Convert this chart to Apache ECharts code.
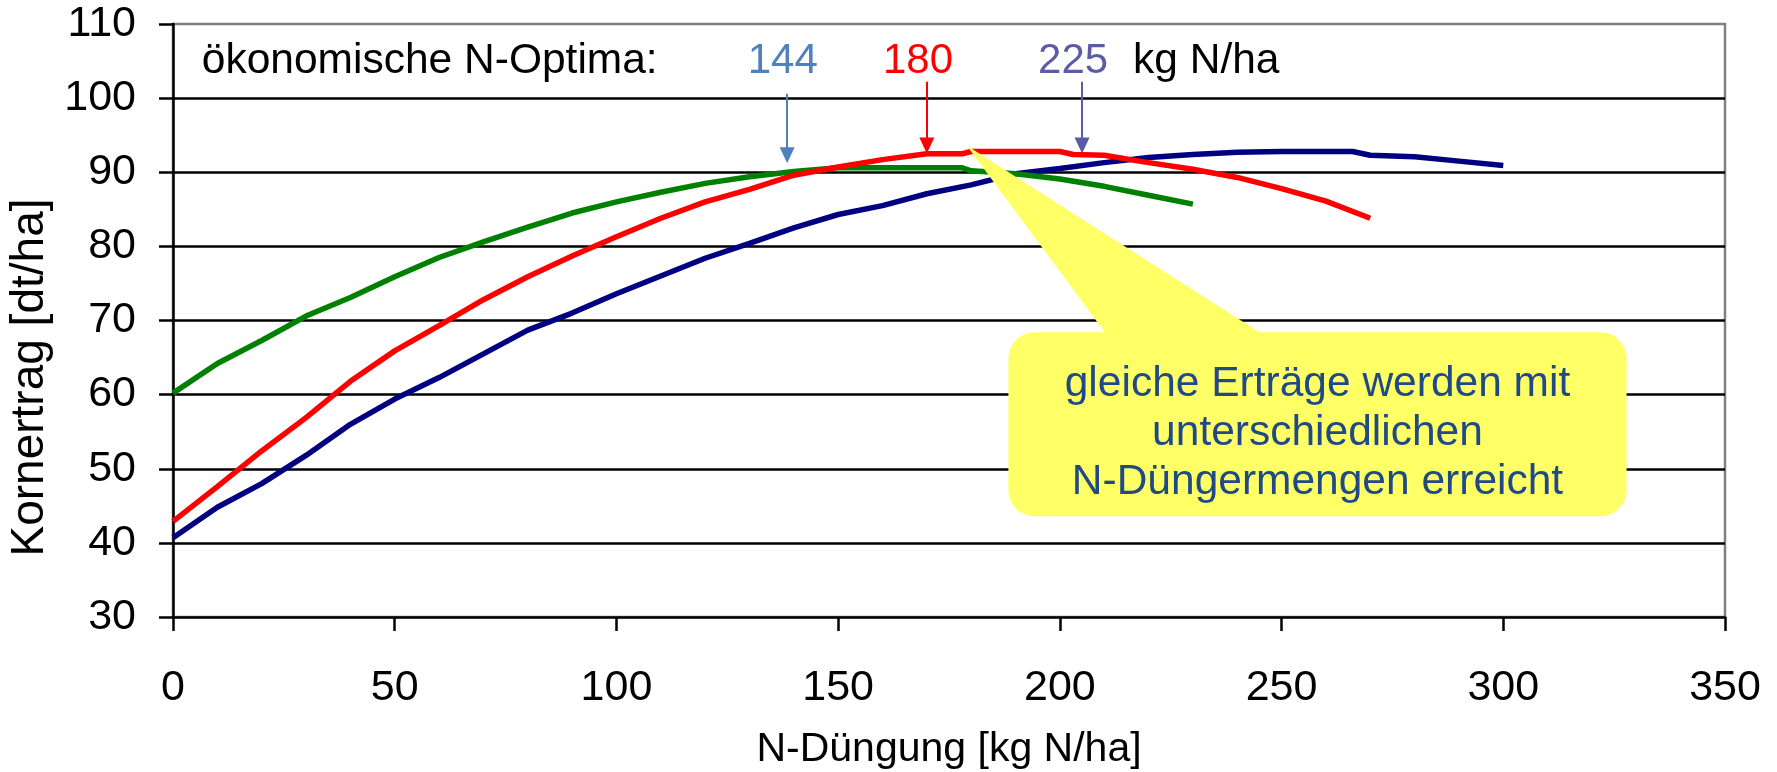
<!DOCTYPE html>
<html><head><meta charset="utf-8">
<script src="https://cdn.jsdelivr.net/npm/echarts@6/dist/echarts.min.js"></script>
<style>html,body{margin:0;padding:0;background:#fff}#c{width:1777px;height:772px}</style>
</head><body><div id="c"></div>
<script>
// ---- data ----
const xAxisTitle = 'N-Düngung [kg N/ha]';
const yAxisTitle = 'Kornertrag [dt/ha]';
const xTicks = [0, 50, 100, 150, 200, 250, 300, 350];
const yTicks = [30, 40, 50, 60, 70, 80, 90, 100, 110];

const greenX = [0,10,20,30,40,50,60,70,80,90,100,110,120,130,140,150,160,170,178,180,190,200,210,220,230];
const greenY = [60.2,64.2,67.3,70.6,73.1,75.9,78.5,80.6,82.6,84.5,86.0,87.3,88.5,89.4,90.1,90.6,90.6,90.6,90.6,90.2,89.8,89.1,88.1,86.9,85.7];

const redX = [0,10,20,30,40,50,60,70,80,90,100,110,120,130,140,150,160,170,178,180,200,203,210,220,230,240,250,260,270];
const redY = [42.9,47.6,52.4,56.9,61.8,65.9,69.3,72.8,75.9,78.7,81.3,83.8,86.0,87.7,89.6,90.7,91.7,92.5,92.5,92.8,92.8,92.4,92.3,91.3,90.4,89.3,87.8,86.1,83.8];

const blueX = [0,10,20,30,40,50,60,70,80,90,100,110,120,130,140,150,160,170,180,190,200,210,220,230,240,250,260,266,270,280,290,300];
const blueY = [40.7,44.8,48.0,51.8,56.0,59.4,62.3,65.5,68.7,71.0,73.6,76.0,78.4,80.4,82.5,84.3,85.5,87.1,88.3,89.8,90.5,91.3,92.0,92.4,92.7,92.8,92.8,92.8,92.3,92.1,91.5,90.9];

const optimaHeader = 'ökonomische N-Optima:';
const optimaValues = ['144', '180', '225'];
const optimaUnit = 'kg N/ha';
// arrow positions (data coordinates: x, yTop, yBottom)
const arrowX = [138.5, 170, 205];
const arrowTop = [100.6, 102.2, 102.2];
const arrowBottom = [92.3, 93.6, 93.6];
const calloutLines = ['gleiche Erträge werden mit', 'unterschiedlichen', 'N-Düngermengen erreicht'];
const calloutTip = [179, 93.6];

// ---- styles ----
const FONT = '"Liberation Sans", Arial, Helvetica, sans-serif';
const optColors = ['#4f81bd', '#ff0000', '#5b5ba6'];

const zip = (xs, ys) => xs.map((x, i) => [x, ys[i]]);

const chart = echarts.init(document.getElementById('c'), null, {renderer: 'canvas'});

const arrowData = arrowX.map((x, i) => [
  {coord: [x, arrowTop[i]], lineStyle: {color: optColors[i], width: 2, type: 'solid'}},
  {coord: [x, arrowBottom[i]]}
]);

const option = {
  animation: false,
  backgroundColor: '#fff',
  grid: {left: 173, right: 52, top: 24, bottom: 155, show: true, containLabel: false,
         outerBoundsMode: 'none',
         borderColor: '#808080', borderWidth: 2.5, backgroundColor: 'transparent'},
  xAxis: {
    type: 'value', min: xTicks[0], max: xTicks[xTicks.length - 1], interval: 50,
    axisLine: {show: true, onZero: false, lineStyle: {color: '#000', width: 2.5}},
    axisTick: {show: true, inside: false, length: 14, lineStyle: {color: '#000', width: 2.5}},
    axisLabel: {fontSize: 43, color: '#000', fontFamily: FONT, margin: 50},
    splitLine: {show: false},
    name: xAxisTitle, nameLocation: 'middle', nameGap: 112,
    nameTextStyle: {fontSize: 41, color: '#000', fontFamily: FONT}
  },
  yAxis: {
    type: 'value', min: yTicks[0], max: yTicks[yTicks.length - 1], interval: 10,
    axisLine: {show: true, onZero: false, lineStyle: {color: '#000', width: 2.5}},
    axisTick: {show: true, inside: false, length: 14, lineStyle: {color: '#000', width: 2.5}},
    axisLabel: {fontSize: 43, color: '#000', fontFamily: FONT, margin: 37},
    splitLine: {show: true, showMinLine: false, showMaxLine: false, lineStyle: {color: '#000', width: 2.5}},
    name: yAxisTitle, nameLocation: 'middle', nameGap: 112,
    nameTextStyle: {fontSize: 46, color: '#000', fontFamily: FONT, padding: [0, 114, 0, 0]}
  },
  series: [
    {type: 'line', name: 'blau', data: zip(blueX, blueY), showSymbol: false, symbol: 'none',
     lineStyle: {color: '#000080', width: 5.5}, z: 3},
    {type: 'line', name: 'grün', data: zip(greenX, greenY), showSymbol: false, symbol: 'none',
     lineStyle: {color: '#008000', width: 5.5}, z: 4},
    {type: 'line', name: 'rot', data: zip(redX, redY), showSymbol: false, symbol: 'none',
     lineStyle: {color: '#ff0000', width: 5.5}, z: 5,
     markLine: {
       silent: true, symbol: ['none', 'triangle'], symbolSize: [15, 16],
       label: {show: false}, animation: false,
       data: arrowData
     }}
  ]
};
chart.setOption(option);

// annotations placed via the chart's own scales
function px(x, y) { return chart.convertToPixel({gridIndex: 0}, [x, y]); }
const headerY = px(0, 105.0)[1];
const hdrPos = px(6.5, 105.0);
const valPos = [px(137.5, 105.0), px(168, 105.0), px(203, 105.0)];
const unitPos = px(216.5, 105.0);
const tip = px(calloutTip[0], calloutTip[1]);
const boxTL = px(188.4, 68.4);
const boxBR = px(327.8, 43.6);
const baseL = px(210.8, 68.4);
const baseR = px(246.4, 68.4);

const graphics = [
  {type: 'text', left: hdrPos[0], top: headerY - 21.5, z: 50,
   style: {text: optimaHeader, font: '42.5px ' + FONT, fill: '#000'}},
  {type: 'text', left: unitPos[0], top: headerY - 21.5, z: 50,
   style: {text: optimaUnit, font: '42.5px ' + FONT, fill: '#000'}}
];
optimaValues.forEach((t, i) => {
  graphics.push({type: 'text', x: valPos[i][0], y: headerY, z: 50,
    style: {text: t, font: '42px ' + FONT, fill: optColors[i], align: 'center', verticalAlign: 'middle'}});
});
graphics.push({type: 'polygon', z: 60,
  shape: {points: [[tip[0], tip[1]], [baseL[0], baseL[1] + 4], [baseR[0], baseR[1] + 4]]},
  style: {fill: '#ffff66', stroke: null}});
graphics.push({type: 'rect', z: 60,
  shape: {x: boxTL[0], y: boxTL[1], width: boxBR[0] - boxTL[0], height: boxBR[1] - boxTL[1], r: 26},
  style: {fill: '#ffff66', stroke: null}});
graphics.push({type: 'text', z: 61, x: (boxTL[0] + boxBR[0]) / 2, y: (boxTL[1] + boxBR[1]) / 2 + 9,
  style: {text: calloutLines.join('\n'), font: '42.5px ' + FONT, fill: '#1f4a86',
          align: 'center', verticalAlign: 'middle', lineHeight: 49}});
chart.setOption({graphic: graphics});
</script>
</body></html>
